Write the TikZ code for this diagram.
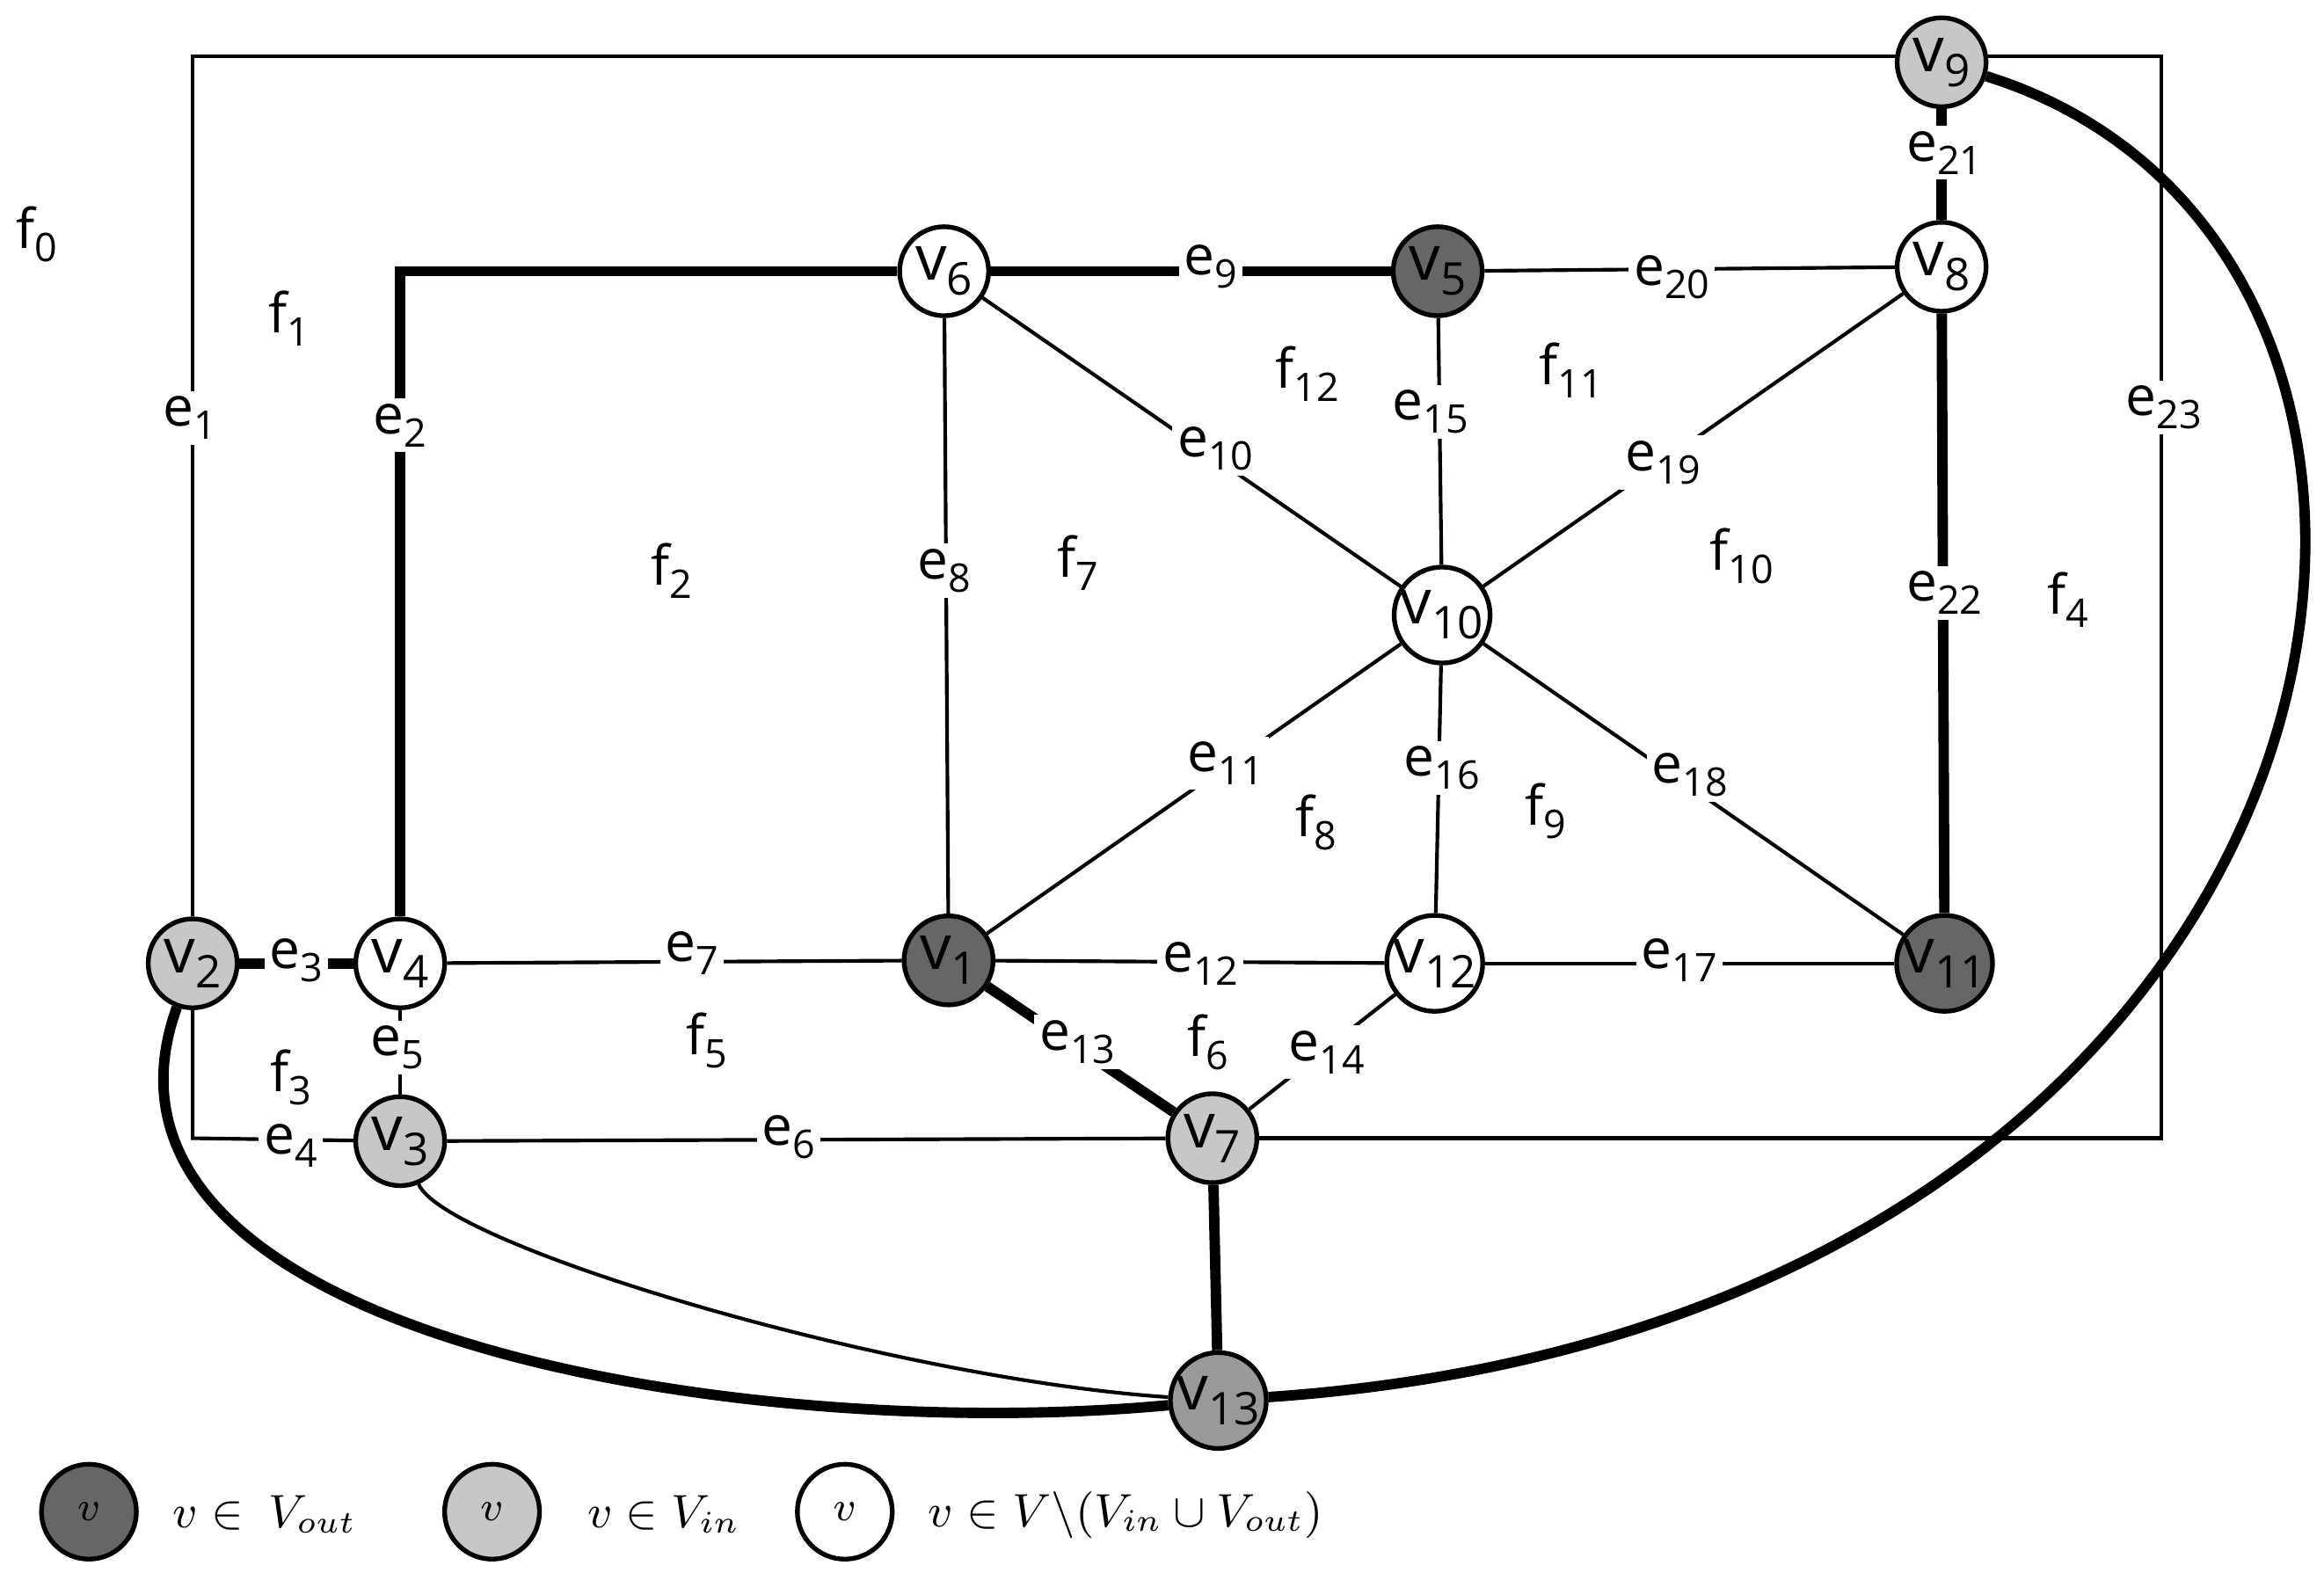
\documentclass[tikz,border=0pt]{standalone}
\usepackage{fontspec}
\setmainfont{Open Sans}
\usetikzlibrary{backgrounds}
\newcommand{\lb}[2]{#1\raisebox{-0.45ex}{\scalebox{0.72}{#2}}}
\begin{document}
\begin{tikzpicture}[x=0.01cm,y=-0.01cm,
  vx/.style={circle,draw,line width=0.9pt,minimum size=0.6cm,inner sep=0pt,font=\fontsize{12}{12}\selectfont},
  vd/.style={vx,fill=black!60},
  vl/.style={vx,fill=black!22},
  vm/.style={vx,fill=black!40},
  vw/.style={vx,fill=white},
  el/.style={fill=white,inner sep=1pt,font=\fontsize{10.5}{12}\selectfont},
  fl/.style={inner sep=1pt,font=\fontsize{10.5}{12}\selectfont},
  thin/.style={line width=0.7pt},
  thick/.style={line width=2pt}]
\useasboundingbox (0,0) rectangle (1568,1066);
\coordinate (c1) at (130,38); \coordinate (c2) at (1458,38);
\coordinate (c3) at (1458,768); \coordinate (c4) at (130,768);
\coordinate (c5) at (270,183);
% nodes
\node[vl] (v9) at (1310,42) {\lb{v}{9}};
\node[vw] (v8) at (1310,180) {\lb{v}{8}};
\node[vw] (v6) at (637,183) {\lb{v}{6}};
\node[vd] (v5) at (970,183) {\lb{v}{5}};
\node[vw] (v10) at (973,415) {\lb{v}{10}};
\node[vl] (v2) at (130,650) {\lb{v}{2}};
\node[vw] (v4) at (270,650) {\lb{v}{4}};
\node[vd] (v1) at (640,648) {\lb{v}{1}};
\node[vw] (v12) at (968,650) {\lb{v}{12}};
\node[vd] (v11) at (1312,650) {\lb{v}{11}};
\node[vl] (v3) at (270,770) {\lb{v}{3}};
\node[vl] (v7) at (818,768) {\lb{v}{7}};
\node[vm] (v13) at (822,945) {\lb{v}{13}};
% edges
\begin{scope}[on background layer]
\draw[thin] (v2) -- (c1) -- (c2) -- (c3) -- (v7);
\draw[thin] (v2) -- (c4) -- (v3);
\end{scope}
\draw[thick] (v4) -- (c5) -- (v6);
\draw[thick] (v6) -- (v5);
\draw[thick] (v2) -- (v4);
\draw[thick] (v9) -- (v8);
\draw[thick] (v8) -- (v11);
\draw[thick] (v1) -- (v7);
\draw[thick] (v7) -- (v13);
\draw[thin] (v4) -- (v3);
\draw[thin] (v3) -- (v7);
\draw[thin] (v4) -- (v1);
\draw[thin] (v6) -- (v1);
\draw[thin] (v6) -- (v10);
\draw[thin] (v10) -- (v1);
\draw[thin] (v1) -- (v12);
\draw[thin] (v12) -- (v7);
\draw[thin] (v5) -- (v10);
\draw[thin] (v10) -- (v12);
\draw[thin] (v12) -- (v11);
\draw[thin] (v10) -- (v11);
\draw[thin] (v10) -- (v8);
\draw[thin] (v5) -- (v8);
\draw[thick] (v2) .. controls (40,900) and (500,975) .. (v13);
\draw[thin] (v3) .. controls (300,840) and (600,930) .. (v13);
\draw[thick] (v9) .. controls (1720,170) and (1620,890) .. (v13);
% edge labels
\node[el] at (128,282) {\lb{e}{1}};
\node[el] at (270,287) {\lb{e}{2}};
\node[el] at (200,648) {\lb{e}{3}};
\node[el] at (196,773) {\lb{e}{4}};
\node[el] at (268,707) {\lb{e}{5}};
\node[el] at (532,767) {\lb{e}{6}};
\node[el] at (467,643) {\lb{e}{7}};
\node[el] at (637,385) {\lb{e}{8}};
\node[el] at (817,180) {\lb{e}{9}};
\node[el] at (820,303) {\lb{e}{10}};
\node[el] at (827,515) {\lb{e}{11}};
\node[el] at (810,650) {\lb{e}{12}};
\node[el] at (727,703) {\lb{e}{13}};
\node[el] at (895,710) {\lb{e}{14}};
\node[el] at (965,278) {\lb{e}{15}};
\node[el] at (973,518) {\lb{e}{16}};
\node[el] at (1133,648) {\lb{e}{17}};
\node[el] at (1140,523) {\lb{e}{18}};
\node[el] at (1122,312) {\lb{e}{19}};
\node[el] at (1128,187) {\lb{e}{20}};
\node[el] at (1312,103) {\lb{e}{21}};
\node[el] at (1312,400) {\lb{e}{22}};
\node[el] at (1460,275) {\lb{e}{23}};
% faces
\node[fl] at (25,158) {\lb{f}{0}};
\node[fl] at (195,215) {\lb{f}{1}};
\node[fl] at (453,385) {\lb{f}{2}};
\node[fl] at (196,727) {\lb{f}{3}};
\node[fl] at (1395,405) {\lb{f}{4}};
\node[fl] at (477,702) {\lb{f}{5}};
\node[fl] at (815,703) {\lb{f}{6}};
\node[fl] at (727,380) {\lb{f}{7}};
\node[fl] at (888,555) {\lb{f}{8}};
\node[fl] at (1043,547) {\lb{f}{9}};
\node[fl] at (1175,375) {\lb{f}{10}};
\node[fl] at (1060,250) {\lb{f}{11}};
\node[fl] at (882,252) {\lb{f}{12}};
% legend
\node[vx,fill=black!60,minimum size=0.64cm] (L1) at (60,1020) {\fontsize{8}{10}\selectfont$v$};
\node[vx,fill=black!22,minimum size=0.64cm] (L2) at (332,1020) {\fontsize{8}{10}\selectfont$v$};
\node[vx,fill=white,minimum size=0.64cm] (L3) at (570,1020) {\fontsize{8}{10}\selectfont$v$};
\node[anchor=west,font=\fontsize{9}{11}\selectfont] (T1) at (104,1022) {$v\in\ V_{out}$};
\node[anchor=west,font=\fontsize{9}{11}\selectfont] (T2) at (384,1022) {$v\in V_{in}$};
\node[anchor=west,font=\fontsize{9}{11}\selectfont] (T3) at (614,1022) {$v\in V\backslash(V_{in}\cup V_{out})$};
\end{tikzpicture}
\end{document}
